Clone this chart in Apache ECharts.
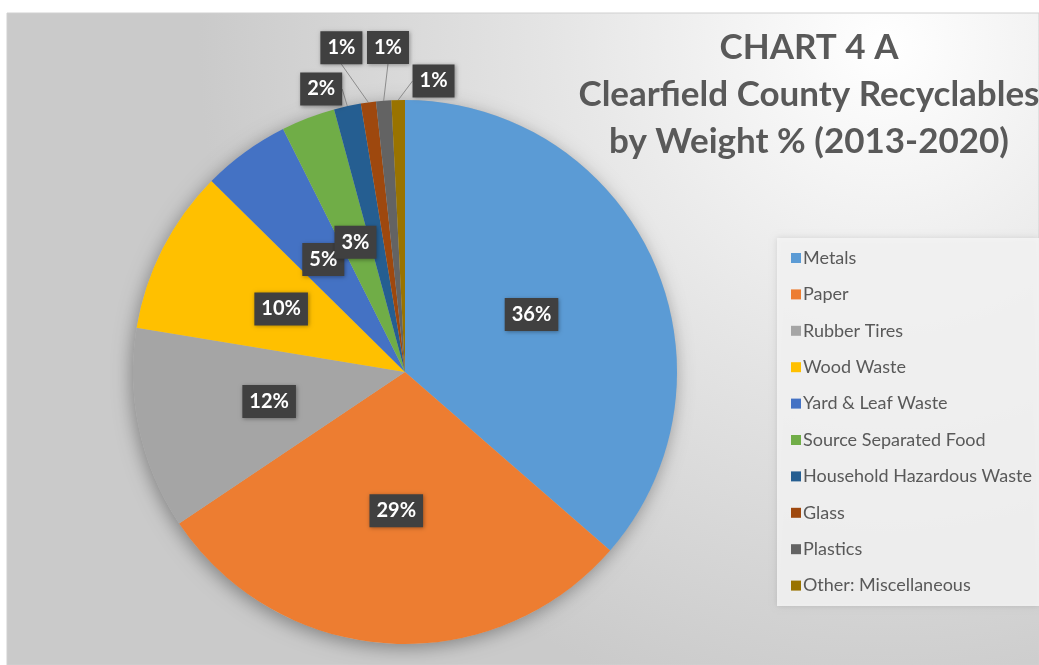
<!DOCTYPE html>
<html>
<head>
<meta charset="utf-8">
<script src="https://cdn.jsdelivr.net/npm/echarts@6/dist/echarts.min.js"></script>
<style>
html,body{margin:0;padding:0;background:#fff;}
#chart{width:1039px;height:665px;}
</style>
</head>
<body>
<div id="chart"></div>
<script>
const categories = ['Metals','Paper','Rubber Tires','Wood Waste','Yard & Leaf Waste','Source Separated Food','Household Hazardous Waste','Glass','Plastics','Other: Miscellaneous'];
const values = [36.4, 29.2, 12.0, 9.8, 5.2, 3.2, 1.6, 0.9, 0.9, 0.8];
const colors = ['#5B9BD5','#ED7D31','#A5A5A5','#FFC000','#4472C4','#70AD47','#255E91','#9E480E','#636363','#997300'];
const titleLines = ['CHART 4 A','Clearfield County Recyclables','by Weight % (2013-2020)'];

const CX = 405, CY = 372, R = 272;
// outside label placement in polar terms: [angle deg clockwise from 12 o'clock, radius factor]
const outsidePolar = {6:[-16.5,1.085], 7:[-11.1,1.215], 8:[-3.0,1.195], 9:[5.6,1.075]};

const chart = echarts.init(document.getElementById('chart'), null, {renderer:'canvas'});
const labelBox = {
  color:'#fff', fontWeight:'bold', fontSize:20, fontFamily:'Lato',
  backgroundColor:'#404040', padding:[7,7,6,7],
  shadowBlur:4, shadowColor:'rgba(0,0,0,0.35)', shadowOffsetX:1, shadowOffsetY:1,
  formatter: p => Math.round(p.value) + '%'
};
const data = categories.map((c,i)=>{
  const d = {name:c, value:values[i], itemStyle:{color:colors[i]}};
  if (outsidePolar[i]) {
    d.label = {position:'outside'};
    d.labelLine = {show:true, length:10, length2:0, lineStyle:{color:'#8c8c8c', width:1}};
  }
  return d;
});
chart.setOption({
  animation:false,
  graphic:[{
    type:'rect', z:-10, shape:{x:7,y:13,width:1032,height:652},
    style:{fill:{type:'radial', x:0.85, y:0.05, r:1.05, colorStops:[{offset:0,color:'#ffffff'},{offset:0.5,color:'#e4e4e4'},{offset:1,color:'#cacaca'}]}, stroke:'#d0d0d0', lineWidth:1}
  },{
    type:'rect', z:-5, shape:{x:777,y:238,width:262,height:368},
    style:{fill:'rgba(246,246,246,0.85)', shadowBlur:6, shadowColor:'rgba(0,0,0,0.15)'}
  }],
  title:{
    text: titleLines.join('\n'), left:804, top:19, textAlign:'center',
    textStyle:{fontFamily:'Lato', fontWeight:'bold', fontSize:35, lineHeight:47, color:'#595959'}
  },
  legend:{
    orient:'vertical', left:786, top:244, itemGap:18.4, itemWidth:10, itemHeight:10, icon:'rect',
    textStyle:{fontFamily:'Lato', fontSize:18, color:'#595959', padding:[0,0,0,-3]},
    data: categories
  },
  series:[{
    type:'pie', center:[CX,CY], radius:R, silent:true, z:1,
    data:[{value:1, itemStyle:{color:'#bbb'}}],
    label:{show:false}, labelLine:{show:false},
    itemStyle:{shadowBlur:18, shadowColor:'rgba(0,0,0,0.35)', shadowOffsetX:-2, shadowOffsetY:4}
  },{
    type:'pie', center:[CX,CY], radius:R, startAngle:90, clockwise:true, z:2,
    avoidLabelOverlap:false,
    label:Object.assign({show:true, position:'inside'}, labelBox),
    labelLine:{show:false},
    labelLayout: function(p){
      const pol = outsidePolar[p.dataIndex];
      if (!pol) return {hideOverlap:false};
      const a = pol[0]*Math.PI/180, rr = R*pol[1];
      return {x: CX + rr*Math.sin(a), y: CY - rr*Math.cos(a), align:'center', verticalAlign:'middle', hideOverlap:false};
    },
    data:data
  }]
});
</script>
</body>
</html>
